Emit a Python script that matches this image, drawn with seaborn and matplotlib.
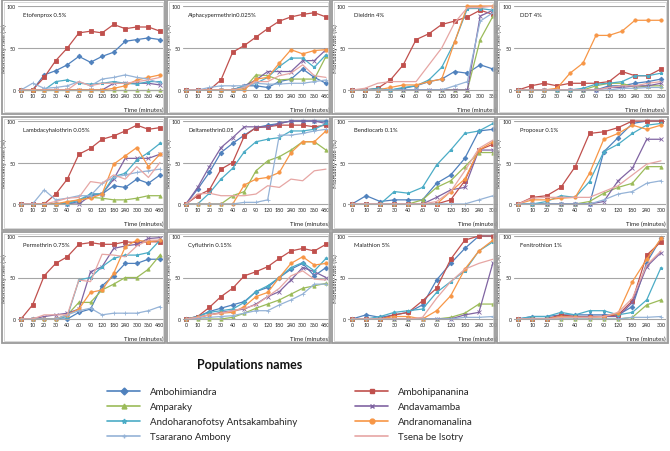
import numpy as np
import pandas as pd
import matplotlib
matplotlib.use("Agg")
import matplotlib.pyplot as plt
import seaborn as sns
from matplotlib.lines import Line2D
from matplotlib.patches import Rectangle

sns.set_theme(style="white")
plt.rcParams['font.family'] = ['Lato', 'DejaVu Sans']

# Time points (categorical x axis)
times_480 = ['0', '10', '20', '30', '40', '60', '90', '120', '180', '240', '300', '360', '480']
times_360 = times_480[:12]
times_300 = times_480[:11]

populations = ['Ambohimiandra', 'Ambohipananina', 'Amparaky', 'Andavamamba',
               'Andoharanofotsy Antsakambahiny', 'Andranomanalina',
               'Tsararano Ambony', 'Tsena be Isotry']
colors = ['#4F81BD', '#C0504D', '#9BBB59', '#8064A2', '#4BACC6', '#F79646', '#95B3D7', '#E6A6A4']
markers = ['D', 's', '^', 'x', '*', 'o', '+', '']

# Mortality rates (%) per insecticide, one list per population (same order as populations)
etofenprox = [
    [0, 0, 18, 23, 30, 40, 33, 40, 45, 58, 60, 62, 60],
    [0, 0, 15, 35, 50, 68, 70, 68, 78, 73, 75, 75, 70],
    [0, 0, 0, 0, 0, 0, 0, 0, 0, 0, 0, 0, 0],
    [0, 0, 0, 0, 0, 0, 0, 0, 8, 8, 8, 8, 6],
    [0, 0, 0, 10, 12, 8, 7, 8, 10, 8, 7, 10, 10],
    [0, 0, 0, 0, 0, 0, 0, 0, 2, 5, 12, 15, 18],
    [0, 8, 2, 3, 5, 10, 5, 13, 15, 18, 15, 13, 8],
    [0, 0, 0, 0, 0, 10, 5, 8, 8, 8, 10, 12, 15],
]
alphacyper = [
    [0, 0, 0, 0, 0, 5, 5, 3, 10, 13, 25, 15, 8],
    [0, 0, 0, 12, 45, 53, 63, 73, 82, 87, 90, 92, 87],
    [0, 0, 0, 0, 0, 2, 18, 17, 12, 13, 13, 13, 40],
    [0, 0, 0, 0, 0, 5, 12, 22, 22, 22, 35, 35, 48],
    [0, 0, 0, 0, 0, 5, 8, 15, 28, 38, 38, 27, 42],
    [0, 0, 0, 0, 0, 0, 13, 15, 32, 48, 43, 47, 48],
    [0, 0, 3, 5, 5, 5, 8, 7, 7, 8, 8, 10, 12],
    [0, 0, 0, 0, 0, 3, 10, 10, 17, 20, 30, 17, 15],
]
dieldrin = [
    [0, 0, 0, 0, 2, 5, 10, 13, 22, 20, 30, 25],
    [0, 0, 2, 12, 30, 60, 67, 78, 82, 87, 95, 90],
    [0, 0, 0, 0, 0, 0, 0, 0, 0, 0, 60, 88],
    [0, 0, 0, 0, 0, 0, 0, 0, 0, 0, 88, 95],
    [0, 0, 2, 0, 3, 5, 12, 27, 57, 97, 97, 95],
    [0, 0, 0, 3, 6, 6, 10, 13, 57, 100, 100, 100],
    [0, 0, 0, 0, 0, 0, 0, 0, 5, 10, 82, 92],
    [0, 2, 8, 10, 10, 10, 30, 50, 80, 98, 98, 100],
]
ddt = [
    [0, 0, 0, 0, 0, 0, 0, 5, 5, 8, 10, 13],
    [0, 5, 8, 5, 8, 8, 8, 10, 22, 17, 17, 25],
    [0, 0, 0, 0, 0, 0, 5, 8, 8, 3, 5, 5],
    [0, 0, 0, 0, 0, 0, 0, 3, 3, 5, 5, 8],
    [0, 0, 0, 0, 0, 2, 7, 8, 10, 17, 17, 20],
    [0, 0, 0, 2, 20, 32, 65, 65, 70, 83, 83, 83],
    [0, 0, 0, 0, 0, 0, 0, 0, 2, 2, 3, 3],
    [0, 0, 0, 0, 0, 0, 0, 3, 5, 5, 8, 10],
]
lambdacy = [
    [0, 0, 0, 0, 0, 3, 12, 12, 22, 20, 30, 25, 35],
    [0, 0, 0, 12, 30, 60, 67, 78, 82, 88, 95, 90, 92],
    [0, 0, 0, 0, 2, 5, 8, 7, 5, 5, 7, 10, 10],
    [0, 0, 0, 0, 0, 0, 10, 12, 30, 55, 55, 55, 60],
    [0, 0, 0, 0, 0, 5, 12, 12, 33, 37, 53, 62, 73],
    [0, 0, 0, 0, 3, 5, 7, 12, 48, 58, 68, 45, 60],
    [0, 0, 17, 5, 7, 10, 10, 25, 32, 35, 38, 40, 42],
    [0, 0, 0, 3, 7, 8, 27, 25, 35, 30, 45, 32, 50],
]
deltameth = [
    [0, 18, 38, 62, 73, 83, 92, 95, 97, 100, 100, 100, 100],
    [0, 10, 17, 42, 50, 82, 92, 93, 95, 95, 95, 93, 95],
    [0, 0, 0, 0, 10, 15, 40, 52, 57, 65, 75, 75, 65],
    [0, 20, 45, 68, 80, 93, 93, 93, 97, 100, 100, 100, 97],
    [0, 0, 13, 30, 43, 63, 75, 78, 80, 88, 88, 90, 97],
    [0, 0, 0, 0, 0, 23, 30, 32, 38, 62, 75, 75, 88],
    [0, 0, 0, 0, 0, 2, 2, 5, 83, 83, 85, 88, 90],
    [0, 12, 13, 10, 10, 10, 12, 22, 20, 30, 28, 40, 42],
]
bendiocarb = [
    [0, 10, 3, 5, 5, 5, 25, 35, 55, 88, 90],
    [0, 0, 0, 0, 0, 0, 0, 5, 28, 65, 72],
    [0, 0, 0, 0, 0, 5, 20, 28, 45, 62, 62],
    [0, 0, 0, 0, 0, 0, 8, 17, 20, 65, 65],
    [0, 0, 0, 15, 13, 20, 47, 65, 85, 88, 97],
    [0, 0, 0, 0, 0, 0, 0, 15, 30, 65, 75],
    [0, 0, 0, 0, 0, 0, 0, 0, 0, 5, 10],
    [0, 0, 0, 0, 0, 0, 3, 15, 40, 67, 77],
]
propoxur = [
    [0, 0, 0, 0, 0, 0, 63, 80, 97, 100, 100],
    [0, 8, 10, 20, 45, 85, 87, 92, 100, 100, 100],
    [0, 0, 0, 0, 0, 3, 13, 20, 25, 45, 45],
    [0, 0, 0, 0, 0, 0, 3, 28, 43, 78, 78],
    [0, 0, 3, 10, 8, 27, 63, 72, 85, 95, 97],
    [0, 5, 5, 7, 8, 37, 78, 85, 95, 90, 95],
    [0, 0, 0, 0, 0, 0, 5, 12, 15, 25, 28],
    [0, 7, 8, 8, 8, 8, 15, 22, 35, 48, 52],
]
permethrin = [
    [0, 0, 0, 0, 0, 8, 12, 40, 52, 67, 67, 72, 72],
    [0, 17, 52, 67, 75, 90, 92, 90, 90, 93, 92, 93, 93],
    [0, 0, 0, 0, 5, 20, 20, 35, 42, 50, 50, 60, 77],
    [0, 0, 3, 5, 7, 12, 57, 63, 85, 88, 90, 97, 98],
    [0, 0, 0, 0, 3, 47, 50, 63, 73, 77, 77, 80, 95],
    [0, 0, 0, 0, 5, 12, 32, 35, 55, 87, 95, 93, 95],
    [0, 0, 0, 0, 5, 10, 13, 5, 7, 7, 7, 10, 15],
    [0, 0, 5, 5, 5, 47, 45, 78, 77, 75, 88, 95, 95],
]
cyfluthrin = [
    [0, 3, 9, 13, 17, 21, 33, 38, 50, 60, 67, 52, 62],
    [0, 3, 14, 27, 37, 52, 57, 63, 73, 82, 85, 82, 90],
    [0, 0, 0, 0, 2, 7, 13, 18, 23, 30, 37, 40, 43],
    [0, 2, 5, 8, 10, 12, 18, 27, 33, 47, 62, 57, 50],
    [0, 3, 8, 10, 12, 20, 33, 40, 50, 62, 68, 58, 73],
    [0, 2, 5, 7, 8, 15, 27, 32, 50, 67, 75, 65, 67],
    [0, 1, 2, 3, 4, 7, 10, 10, 17, 23, 30, 42, 42],
    [0, 2, 5, 7, 10, 13, 17, 27, 37, 52, 58, 48, 47],
]
malathion = [
    [0, 5, 2, 5, 8, 17, 47, 67, 85, 100, 100],
    [0, 0, 0, 5, 8, 22, 37, 72, 95, 100, 100],
    [0, 0, 0, 0, 0, 0, 0, 2, 7, 18, 18],
    [0, 0, 0, 0, 0, 0, 0, 0, 5, 8, 68],
    [0, 0, 3, 8, 10, 12, 32, 45, 58, 82, 93],
    [0, 0, 0, 3, 3, 0, 10, 28, 60, 82, 95],
    [0, 0, 0, 0, 0, 0, 0, 0, 2, 2, 3],
    [0, 0, 0, 0, 0, 2, 25, 45, 60, 67, 72],
]
fenitrothion = [
    [0, 3, 3, 5, 5, 5, 5, 5, 15, 68, 97],
    [0, 0, 0, 5, 3, 3, 3, 5, 22, 77, 93],
    [0, 0, 0, 0, 0, 0, 0, 0, 2, 17, 23],
    [0, 0, 0, 3, 2, 3, 3, 3, 20, 63, 80],
    [0, 3, 3, 8, 5, 10, 10, 5, 8, 23, 62],
    [0, 0, 0, 3, 2, 2, 3, 7, 45, 72, 97],
    [0, 0, 0, 0, 0, 0, 0, 0, 2, 2, 3],
    [0, 0, 0, 2, 2, 2, 3, 8, 25, 65, 82],
]

panels = [
    ('Etofenprox 0.5%', times_480, etofenprox),
    ('Alphacypermethrin0.025%', times_480, alphacyper),
    ('Dieldrin 4%', times_360, dieldrin),
    ('DDT 4%', times_360, ddt),
    ('Lambdacyhalothrin 0.05%', times_480, lambdacy),
    ('Deltamethrin0.05', times_480, deltameth),
    ('Bendiocarb 0.1%', times_300, bendiocarb),
    ('Propoxur 0.1%', times_300, propoxur),
    ('Permethrin 0.75%', times_480, permethrin),
    ('Cyfluthrin 0.15%', times_480, cyfluthrin),
    ('Malathion 5%', times_300, malathion),
    ('Fenitrothion 1%', times_300, fenitrothion),
]

W, H = 670, 452
fig = plt.figure(figsize=(6.7, 4.52), dpi=100)

# pixel layout of the panels
frame_cols = [(2, 165), (167, 330), (332, 495), (497, 668)]
frame_rows = [(1, 115), (118, 231), (233, 344)]
first_x = [21, 186, 352, 518]
last_x = [160, 326, 493, 661]
row_y = [(7, 91), (122, 205), (237, 320)]
pad = 0.3

for i, (title, times, values) in enumerate(panels):
    r, c = divmod(i, 4)
    # frame around each panel
    fx0, fx1 = frame_cols[c]
    fy0, fy1 = frame_rows[r]
    fig.patches.append(Rectangle((fx0 / W, 1 - fy1 / H), (fx1 - fx0) / W, (fy1 - fy0) / H,
                                 transform=fig.transFigure, fill=False,
                                 edgecolor='#9a9a9a', linewidth=1.3))
    fig.patches.append(Rectangle(((fx0 + 2) / W, 1 - (fy1 - 2) / H), (fx1 - fx0 - 4) / W,
                                 (fy1 - fy0 - 4) / H, transform=fig.transFigure, fill=False,
                                 edgecolor='#c8c8c8', linewidth=0.5))

    n = len(times)
    step = (last_x[c] - first_x[c]) / (n - 1)
    left = first_x[c] - pad * step
    right = last_x[c] + pad * step
    top, bottom = row_y[r]
    ax = fig.add_axes([left / W, 1 - bottom / H, (right - left) / W, (bottom - top) / H])

    pos = np.arange(n)
    for k, pop in enumerate(populations):
        sns.lineplot(x=pos, y=values[k], ax=ax, color=colors[k], marker=markers[k] or None,
                     markersize=2.4, markeredgewidth=0.6, markeredgecolor=colors[k],
                     linewidth=0.9, clip_on=False)

    ax.set_xlim(-pad, n - 1 + pad)
    ax.set_ylim(0, 100)
    ax.set_xticks(pos)
    ax.set_xticklabels(times)
    ax.set_yticks([0, 50, 100])
    ax.tick_params(axis='both', labelsize=3.8, length=0, pad=1.5, colors='#222222')
    ax.tick_params(axis='x', pad=2.5)
    for y in [50, 100]:
        ax.axhline(y, color='#a6a6a6', linewidth=0.8, zorder=0)
    for s in ['top', 'right', 'left']:
        ax.spines[s].set_visible(False)
    ax.spines['bottom'].set_color('#a6a6a6')
    ax.spines['bottom'].set_linewidth(0.8)
    ax.set_facecolor('none')
    ax.set_xlabel('')
    ax.set_ylabel('Mortality rate (%)', fontsize=4.6, color='#111111')
    ax.yaxis.set_label_coords(-(left - (fx0 + 5.5)) / (right - left), 0.5)
    ax.text(0.04, 0.88, title, transform=ax.transAxes, fontsize=4.2, color='#222222')
    ax.text(1.0, -0.23, 'Time (minutes)', transform=ax.transAxes, fontsize=4.4,
            ha='right', va='center', color='#222222')

# legend
fig.text(250 / W, 1 - 365 / H, 'Populations names', fontsize=9, fontweight='bold',
         ha='center', va='center', color='#111111')
order = [0, 2, 4, 6, 1, 3, 5, 7]
handles = [Line2D([0], [0], color=colors[k], marker=markers[k] or None, markersize=3.5,
                  markeredgecolor=colors[k], linewidth=1.2) for k in order]
labels = [populations[k] for k in order]
fig.legend(handles, labels, ncol=2, frameon=False, loc='upper left',
           bbox_to_anchor=(107 / W, 1 - 388 / H), borderaxespad=0, borderpad=0,
           fontsize=7, handlelength=3.4, handletextpad=1.0, labelspacing=0.62,
           columnspacing=6.0)

fig.savefig('out.png', dpi=100, facecolor='white')
